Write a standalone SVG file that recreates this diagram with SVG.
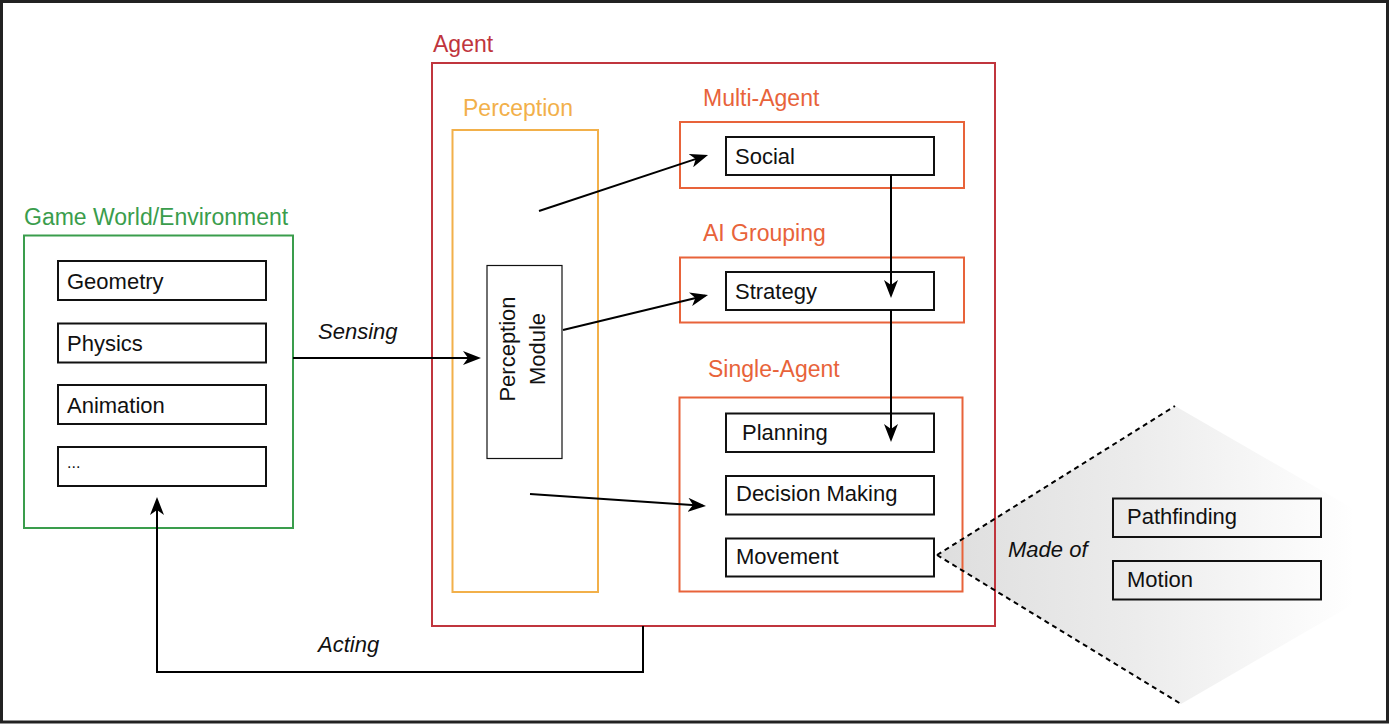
<svg xmlns="http://www.w3.org/2000/svg" width="1389" height="724" viewBox="0 0 1389 724">
  <defs>
    <linearGradient id="fade" gradientUnits="userSpaceOnUse" x1="937" y1="0" x2="1355" y2="0">
      <stop offset="0" stop-color="#dedede"/>
      <stop offset="0.45" stop-color="#ebebeb"/>
      <stop offset="1" stop-color="#ffffff"/>
    </linearGradient>
    <marker id="arr" viewBox="0 0 18 14" refX="15" refY="7" markerWidth="18" markerHeight="14" markerUnits="userSpaceOnUse" orient="auto">
      <path d="M0,0 L18,7 L0,14 L5,7 z" fill="#000"/>
    </marker>
    <style>
      text { font-family: "Liberation Sans", Arial, sans-serif; }
      .hdr { font-size: 23px; }
      .lbl { font-size: 22px; fill: #111; }
      .it { font-size: 22px; font-style: italic; fill: #111; }
      .box { fill: #fff; stroke: #111; stroke-width: 2; }
      .tbox { fill: none; stroke: #111; stroke-width: 2; }
      .conn { fill: none; stroke: #000; stroke-width: 2; }
    </style>
  </defs>

  <rect x="0" y="0" width="1389" height="724" fill="#fff"/>
  <rect x="1.5" y="1.5" width="1386" height="720.5" fill="none" stroke="#222" stroke-width="3"/>

  <!-- Made-of fan background -->
  <g id="madeof-fan">
    <polygon points="937,555 1175,406 1352,508 1352,605 1181,704" fill="url(#fade)"/>
  </g>

  <!-- Game world -->
  <g id="gameworld">
    <text class="hdr" x="24" y="225" fill="#3a9d4c">Game World/Environment</text>
    <rect x="24" y="235.5" width="269" height="292.5" fill="none" stroke="#3a9d4c" stroke-width="2"/>
  </g>
  <g id="geometry">
    <rect class="box" x="58" y="261" width="208" height="39"/>
    <text class="lbl" x="67" y="289">Geometry</text>
  </g>
  <g id="physics">
    <rect class="box" x="58" y="323.5" width="208" height="39"/>
    <text class="lbl" x="67" y="351">Physics</text>
  </g>
  <g id="animation">
    <rect class="box" x="58" y="385" width="208" height="39"/>
    <text class="lbl" x="67" y="413">Animation</text>
  </g>
  <g id="etc">
    <rect class="box" x="58" y="447" width="208" height="39"/>
    <text class="lbl" x="67" y="468" style="font-size:16px">...</text>
  </g>

  <!-- Agent -->
  <g id="agent">
    <text class="hdr" x="433" y="52" fill="#c0353d">Agent</text>
    <rect x="432" y="63" width="563" height="563" fill="none" stroke="#c0353d" stroke-width="2"/>
  </g>
  <g id="perception">
    <text class="hdr" x="463" y="116" fill="#f2b04a">Perception</text>
    <rect x="452.5" y="130" width="145.5" height="462" fill="none" stroke="#f2b04a" stroke-width="2"/>
  </g>
  <g id="perception-module">
    <rect x="487" y="265.5" width="75" height="193" fill="#fff" stroke="#111" stroke-width="1.2"/>
    <text class="lbl" transform="translate(515,349) rotate(-90)" text-anchor="middle">Perception</text>
    <text class="lbl" transform="translate(545,349) rotate(-90)" text-anchor="middle">Module</text>
  </g>

  <g id="multi-agent">
    <text class="hdr" x="703" y="106" fill="#e8633a">Multi-Agent</text>
    <rect x="680" y="122" width="284" height="66" fill="none" stroke="#e8633a" stroke-width="2"/>
  </g>
  <g id="social">
    <rect class="box" x="726" y="137" width="208" height="38"/>
    <text class="lbl" x="735" y="164">Social</text>
  </g>

  <g id="ai-grouping">
    <text class="hdr" x="703" y="241" fill="#e8633a">AI Grouping</text>
    <rect x="680" y="257.5" width="284" height="65" fill="none" stroke="#e8633a" stroke-width="2"/>
  </g>
  <g id="strategy">
    <rect class="box" x="726" y="272" width="208" height="38"/>
    <text class="lbl" x="735" y="299">Strategy</text>
  </g>

  <g id="single-agent">
    <text class="hdr" x="708" y="377" fill="#e8633a">Single-Agent</text>
    <rect x="679.5" y="397.5" width="283" height="194" fill="none" stroke="#e8633a" stroke-width="2"/>
  </g>
  <g id="planning">
    <rect class="box" x="726" y="413.5" width="208" height="38.5"/>
    <text class="lbl" x="742" y="440">Planning</text>
  </g>
  <g id="decision-making">
    <rect class="box" x="726" y="476" width="208" height="38.5"/>
    <text class="lbl" x="736" y="501">Decision Making</text>
  </g>
  <g id="movement">
    <rect class="box" x="726" y="538.5" width="208" height="38"/>
    <text class="lbl" x="736" y="564">Movement</text>
  </g>

  <g id="pathfinding">
    <rect class="tbox" x="1113" y="498.5" width="208" height="38.5"/>
    <text class="lbl" x="1127" y="524">Pathfinding</text>
  </g>
  <g id="motion">
    <rect class="tbox" x="1113" y="561" width="208" height="38.5"/>
    <text class="lbl" x="1127" y="587">Motion</text>
  </g>

  <!-- Connectors -->
  <g id="connectors">
    <path class="conn" d="M293,358 L478,358" marker-end="url(#arr)"/>
    <path class="conn" d="M539,211 L705.2,155.9" marker-end="url(#arr)"/>
    <path class="conn" d="M563,330 L705.1,295.7" marker-end="url(#arr)"/>
    <path class="conn" d="M530,494 L703,505.8" marker-end="url(#arr)"/>
    <path class="conn" d="M891,175 L891,295" marker-end="url(#arr)"/>
    <path class="conn" d="M891,310 L891,439" marker-end="url(#arr)"/>
    <path class="conn" d="M643,626 L643,672 L157,672 L157,500" marker-end="url(#arr)"/>
    <path d="M937,555 L1175,406 M937,555 L1181,704" fill="none" stroke="#000" stroke-width="2" stroke-dasharray="5,4"/>
    <text class="it" x="318" y="339">Sensing</text>
    <text class="it" x="318" y="652">Acting</text>
    <text class="it" x="1008" y="557">Made of</text>
  </g>
</svg>
